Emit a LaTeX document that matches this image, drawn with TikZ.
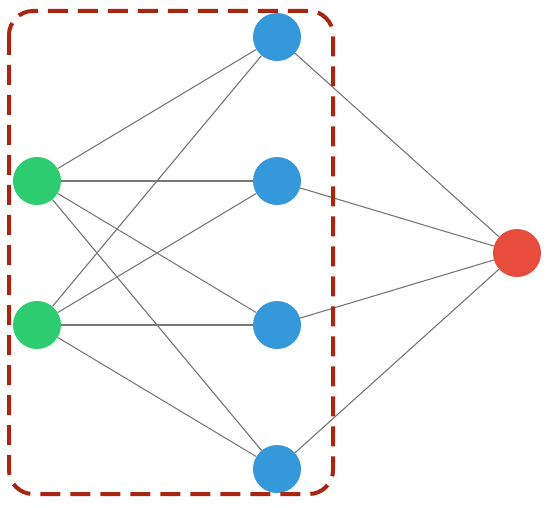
\documentclass[tikz,border=0pt]{standalone}
\usetikzlibrary{positioning}
\definecolor{ngreen}{HTML}{2ECC71}
\definecolor{nblue}{HTML}{3498DB}
\definecolor{nred}{HTML}{E74C3C}
\definecolor{edgegray}{HTML}{777777}
\definecolor{boxred}{HTML}{A8260F}
\begin{document}
\begin{tikzpicture}[x=1pt,y=-1pt,
  neuron/.style={circle,minimum size=48pt,inner sep=0pt,draw=none},
  link/.style={draw=edgegray,line width=1.1pt},
  group/.style={draw=boxred,line width=4pt,rounded corners=24pt,dash pattern=on 20pt off 10pt}]
\useasboundingbox (0,0) rectangle (552,508);
\node[neuron,fill=ngreen] (i1) at (37,181) {};
\node[neuron,fill=ngreen] (i2) at (37,325) {};
\node[neuron,fill=nblue] (h1) at (277,37) {};
\node[neuron,fill=nblue] (h2) at (277,181) {};
\node[neuron,fill=nblue] (h3) at (277,325) {};
\node[neuron,fill=nblue] (h4) at (277,469) {};
\node[neuron,fill=nred] (o1) at (517,253) {};
\begin{scope}[on background layer/.style={}]
\end{scope}
\foreach \i in {i1,i2}{
  \foreach \h in {h1,h2,h3,h4}{
    \draw[link] (\i) -- (\h);
  }
}
\foreach \h in {h1,h2,h3,h4}{
  \draw[link] (\h) -- (o1);
}
\draw[group] (9,11) rectangle (333,494);
\end{tikzpicture}
\end{document}
